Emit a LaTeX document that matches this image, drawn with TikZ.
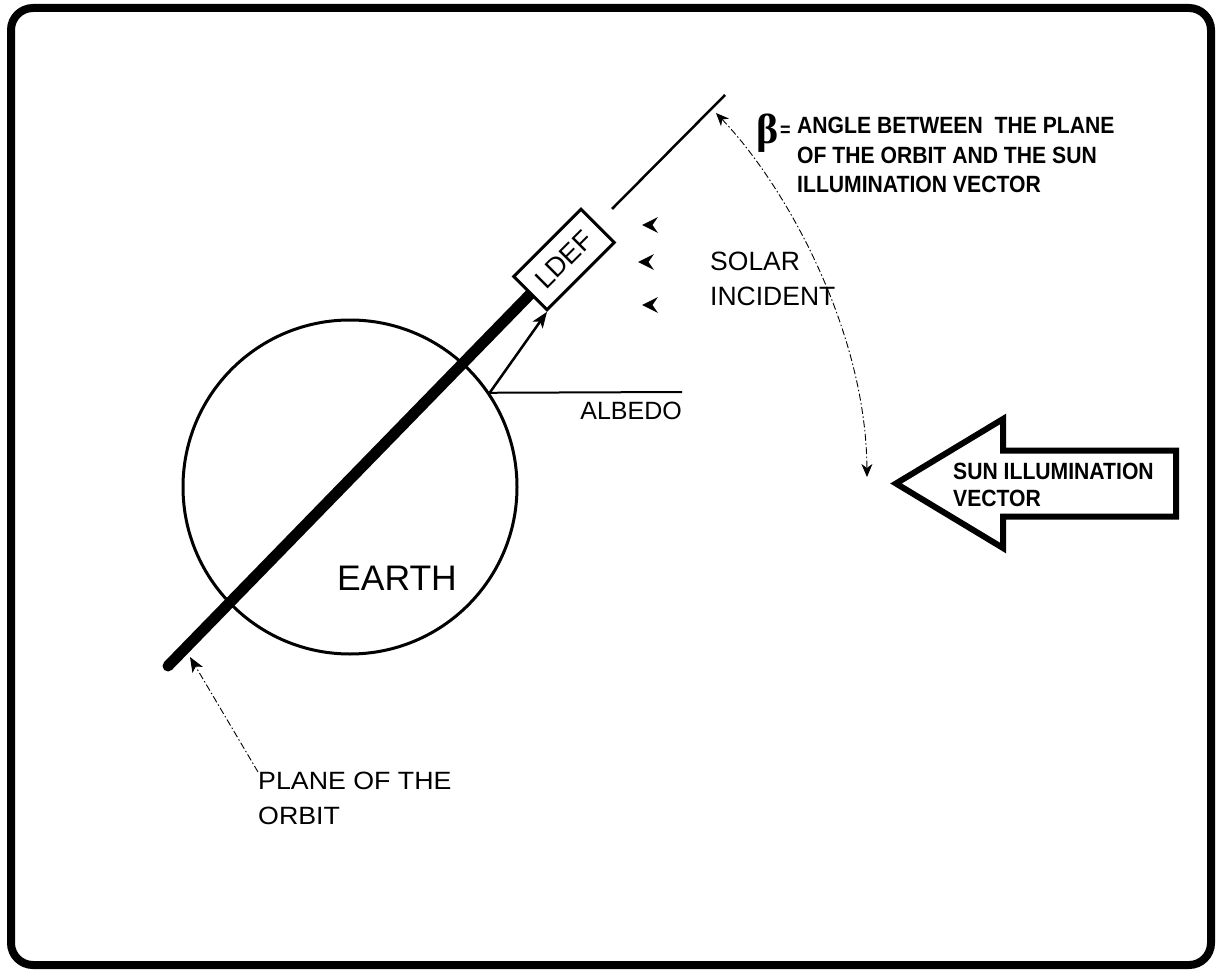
\documentclass[tikz,border=0pt]{standalone}
\usepackage{fontspec}
\setmainfont{Liberation Sans}
\newfontfamily\condfont[FakeStretch=0.9]{Liberation Sans}
\newfontfamily\widefont[FakeStretch=1.07]{Liberation Sans}
\newfontfamily\greekfont{Liberation Serif}
\usetikzlibrary{arrows.meta,backgrounds}
\begin{document}
\begin{tikzpicture}[x=1pt,y=-1pt,
  lbl/.style={inner sep=0pt, align=left},
  dashdot/.style={line width=0.9pt, dash pattern=on 7pt off 2.5pt on 1.5pt off 2.5pt},
  smalltip/.style={-{Stealth[length=15pt,width=12pt,inset=4pt]}},
  bigtip/.style={-{Stealth[length=16pt,width=12pt,inset=4pt]}},
  boldtext/.style={lbl, font=\condfont\bfseries\fontsize{23.5}{29.5}\selectfont},
]
\useasboundingbox (0,0) rectangle (1216,971);
\begin{scope}[on background layer]
  \fill[white] (0,0) rectangle (1216,971);
\end{scope}
\draw[line width=8pt, rounded corners=22pt] (11,8) rectangle (1211,965);

% Earth
\node[circle, draw, line width=3pt, minimum size=334pt, inner sep=0pt] (earth) at (350,487) {};
\node[lbl, font=\fontsize{35.5}{40}\selectfont, anchor=base west] (earthlbl) at (337,590) {EARTH};

% LDEF box
\node[draw, line width=3pt, fill=white, rotate=45, minimum width=95pt, minimum height=47pt,
      inner sep=0pt, font=\fontsize{27}{30}\selectfont] (ldef) at (564,259.5) {LDEF};

% plane of the orbit
\coordinate (orbitend) at (168,666);
\begin{scope}[on background layer]
  \draw[line width=11pt, line cap=round] (orbitend) -- (ldef.center);
\end{scope}
\coordinate (thinA) at (612,209);
\coordinate (thinB) at (725,95);
\draw[line width=2.5pt] (thinA) -- (thinB);

% albedo
\coordinate (albedoend) at (682,392);
\draw[line width=2pt] (earth.34) -- (albedoend);
\node[lbl, font=\fontsize{25}{30}\selectfont, anchor=base east] (albedolbl) at (682,419) {ALBEDO};
\draw[line width=2.5pt, bigtip] (earth.34) -- (ldef.south west);

% solar incident
\foreach \x/\y in {642/225, 638/262, 642/305}
  \fill (\x,\y) -- ++(16,-8) -- ++(-5.5,8) -- ++(5.5,8) -- cycle;
\node[lbl, font=\fontsize{26.5}{35}\selectfont, anchor=north west] (solar) at (710,252) {SOLAR\\INCIDENT};

% beta definition
\node[inner sep=0pt, font=\greekfont\bfseries\fontsize{42}{42}\selectfont, anchor=base west] (beta) at (756,144) {β};
\node[inner sep=0pt, font=\condfont\bfseries\fontsize{20}{20}\selectfont, anchor=base west] (eq) at (780,137) {=};
\node[boldtext, anchor=north west] (betatext) at (797,117)
  {ANGLE BETWEEN\ \ THE PLANE\\OF THE ORBIT AND THE SUN\\ILLUMINATION VECTOR};

% beta arc
\coordinate (arcA) at (716,113);
\coordinate (arcB) at (867,477);
\draw[dashdot, {Stealth[length=13pt,width=11pt,inset=4pt]}-{Stealth[length=13pt,width=11pt,inset=4pt]}]
  (arcA) .. controls (785,185) and (866,330) .. (arcB);

% sun illumination vector
\draw[line width=6pt, line join=miter, miter limit=10]
  (896,483.5) -- (1003,419) -- (1003,450.5) -- (1176,450.5) -- (1176,516.5)
  -- (1003,516.5) -- (1003,548) -- cycle;
\node[lbl, font=\condfont\bfseries\fontsize{23.5}{27}\selectfont, anchor=north west] (suntext) at (953,463)
  {SUN ILLUMINATION\\VECTOR};

% plane of the orbit label
\coordinate (orbitpt) at (190,657);
\node[lbl, font=\widefont\fontsize{25}{35}\selectfont, anchor=north west] (planelbl) at (258,772)
  {PLANE OF THE\\ORBIT};
\draw[dashdot, smalltip] (planelbl.north west) -- (orbitpt);
\end{tikzpicture}
\end{document}
